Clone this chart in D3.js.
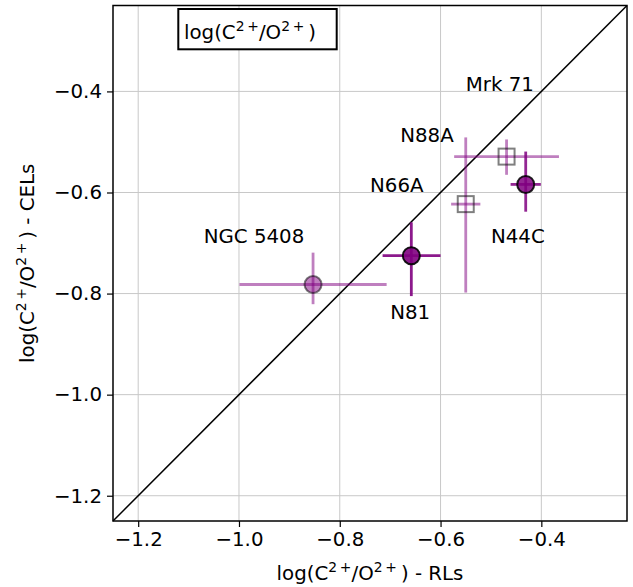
<!DOCTYPE html>
<html>
<head>
<meta charset="utf-8">
<script src="https://cdn.jsdelivr.net/npm/d3@7"></script>
<style>
  body { margin: 0; background: #fff; }
  svg { display: block; font-family: 'DejaVu Sans', sans-serif; }
</style>
</head>
<body>
<div id="chart"></div>
<script>
// data
const names = ['NGC 5408', 'N81', 'N44C', 'sq1', 'sq2']
const xRL = [-0.853, -0.658, -0.431, -0.469, -0.550]
const yCEL = [-0.782, -0.725, -0.584, -0.529, -0.623]
const xErrLo = [0.146, 0.057, 0.030, 0.104, 0.029]
const xErrHi = [0.146, 0.058, 0.030, 0.104, 0.029]
const yErrLo = [0.039, 0.080, 0.054, 0.036, 0.175]
const yErrHi = [0.063, 0.066, 0.065, 0.034, 0.132]
const markers = ['circle', 'circle', 'circle', 'square', 'square']
const alphas = [0.5, 0.9, 0.85, 0.5, 0.5]

const labels = ['Mrk 71', 'N88A', 'N66A', 'N44C', 'NGC 5408', 'N81']
const labelX = [-0.55, -0.68, -0.74, -0.50, -1.07, -0.70]
const labelY = [-0.40, -0.50, -0.60, -0.70, -0.70, -0.85]

const ticks = [-1.2, -1.0, -0.8, -0.6, -0.4]
const domain = [-1.25, -0.23]

const W = 633, H = 587
const margin = { top: 5.5, right: 6, bottom: 66, left: 113 }
const innerW = W - margin.left - margin.right
const innerH = H - margin.top - margin.bottom
const purple = '#800080'
const fs = 19.8

const svg = d3.select('#chart').append('svg')
  .attr('width', W)
  .attr('height', H)

const g = svg.append('g')
  .attr('transform', `translate(${margin.left},${margin.top})`)

const x = d3.scaleLinear().domain(domain).range([0, innerW])
const y = d3.scaleLinear().domain(domain).range([innerH, 0])

// grid
g.append('g').selectAll('line')
  .data(ticks)
  .join('line')
  .attr('x1', d => x(d)).attr('x2', d => x(d))
  .attr('y1', 0).attr('y2', innerH)
  .attr('stroke', '#c8c8c8').attr('stroke-width', 1)
g.append('g').selectAll('line')
  .data(ticks)
  .join('line')
  .attr('y1', d => y(d)).attr('y2', d => y(d))
  .attr('x1', 0).attr('x2', innerW)
  .attr('stroke', '#c8c8c8').attr('stroke-width', 1)

// axes
const fmt = d => d3.format('.1f')(d).replace('-', '\u2212')
const xAxis = g.append('g')
  .attr('transform', `translate(0,${innerH})`)
  .call(d3.axisBottom(x).tickValues(ticks).tickFormat(fmt).tickSize(6).tickPadding(5))
const yAxis = g.append('g')
  .call(d3.axisLeft(y).tickValues(ticks).tickFormat(fmt).tickSize(6).tickPadding(5))
;[xAxis, yAxis].forEach(a => {
  a.select('.domain').remove()
  a.selectAll('text').attr('font-size', fs).attr('font-family', 'DejaVu Sans').attr('fill', '#000')
  a.selectAll('line').attr('stroke', '#000').attr('stroke-width', 1.2)
})

// 1:1 line
g.append('line')
  .attr('x1', x(domain[0])).attr('y1', y(domain[0]))
  .attr('x2', x(domain[1])).attr('y2', y(domain[1]))
  .attr('stroke', '#000').attr('stroke-width', 1.5)

// points with error bars (alpha per element, like matplotlib)
const pts = names.map((n, i) => ({
  name: n, x: xRL[i], y: yCEL[i],
  xl: xErrLo[i], xh: xErrHi[i], yl: yErrLo[i], yh: yErrHi[i],
  marker: markers[i], alpha: alphas[i]
}))

const pg = g.append('g').selectAll('g')
  .data(pts)
  .join('g')

pg.append('line')
  .attr('x1', d => x(d.x - d.xl)).attr('x2', d => x(d.x + d.xh))
  .attr('y1', d => y(d.y)).attr('y2', d => y(d.y))
  .attr('stroke', purple).attr('stroke-width', 2.8)
  .attr('stroke-opacity', d => d.alpha)
pg.append('line')
  .attr('x1', d => x(d.x)).attr('x2', d => x(d.x))
  .attr('y1', d => y(d.y - d.yl)).attr('y2', d => y(d.y + d.yh))
  .attr('stroke', purple).attr('stroke-width', 2.8)
  .attr('stroke-opacity', d => d.alpha)

pg.filter(d => d.marker === 'circle').append('circle')
  .attr('cx', d => x(d.x)).attr('cy', d => y(d.y))
  .attr('r', 8.5)
  .attr('fill', purple).attr('fill-opacity', d => d.alpha)
  .attr('stroke', '#000').attr('stroke-width', 2).attr('stroke-opacity', d => d.alpha)

pg.filter(d => d.marker === 'square').append('rect')
  .attr('x', d => x(d.x) - 8).attr('y', d => y(d.y) - 8)
  .attr('width', 16).attr('height', 16)
  .attr('fill', 'none')
  .attr('stroke', '#000').attr('stroke-width', 2).attr('stroke-opacity', d => d.alpha)

// labels
g.append('g').selectAll('text')
  .data(labels)
  .join('text')
  .attr('x', (d, i) => x(labelX[i]))
  .attr('y', (d, i) => y(labelY[i]))
  .attr('font-size', fs)
  .attr('fill', '#000')
  .text(d => d)

// frame
g.append('rect')
  .attr('width', innerW).attr('height', innerH)
  .attr('fill', 'none').attr('stroke', '#000').attr('stroke-width', 1.5)

// text with C^{2+}/O^{2+}
function ionText(sel, suffix) {
  const sup = fs * 0.7
  sel.append('tspan').text('log(C')
  sel.append('tspan').attr('font-size', sup).attr('dy', -8).text('2\u2009+')
  sel.append('tspan').attr('dy', 8).text('/O')
  sel.append('tspan').attr('font-size', sup).attr('dy', -8).text('2\u2009+')
  sel.append('tspan').attr('dy', 8).text('\u2009)' + suffix)
}

// box label
g.append('rect')
  .attr('x', 178.3 - margin.left).attr('y', 9 - margin.top)
  .attr('width', 158.4).attr('height', 40.3)
  .attr('fill', '#fff').attr('stroke', '#000').attr('stroke-width', 2)
g.append('text')
  .attr('x', 184 - margin.left).attr('y', 39 - margin.top)
  .attr('font-size', fs).attr('fill', '#000')
  .call(ionText, '')

// axis labels
svg.append('text')
  .attr('x', margin.left + innerW / 2).attr('y', 580)
  .attr('text-anchor', 'middle')
  .attr('font-size', fs).attr('fill', '#000')
  .call(ionText, ' - RLs')
svg.append('text')
  .attr('transform', `translate(34,${margin.top + innerH / 2}) rotate(-90)`)
  .attr('text-anchor', 'middle')
  .attr('font-size', fs).attr('fill', '#000')
  .call(ionText, ' - CELs')
</script>
</body>
</html>
